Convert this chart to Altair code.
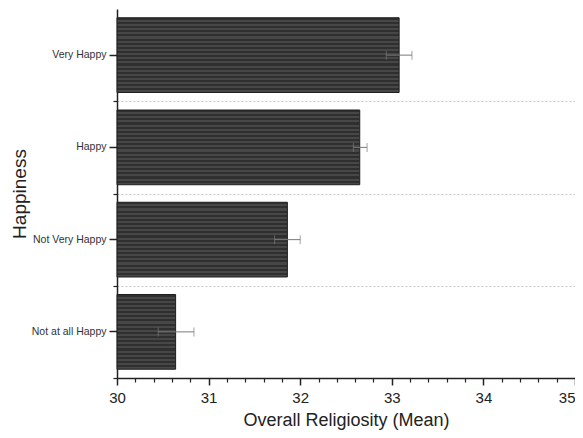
import altair as alt
import pandas as pd

categories = ["Very Happy", "Happy", "Not Very Happy", "Not at all Happy"]
means = [33.08, 32.65, 31.86, 30.64]
err_low = [32.94, 32.58, 31.72, 30.45]
err_high = [33.22, 32.73, 32.00, 30.84]
x_major = [30, 31, 32, 33, 34, 35]
x_minor = [30.2, 30.4, 30.6, 30.8, 31.2, 31.4, 31.6, 31.8, 32.2, 32.4, 32.6, 32.8,
           33.2, 33.4, 33.6, 33.8, 34.2, 34.4, 34.6, 34.8]

df = pd.DataFrame({"cat": categories, "mean": means, "low": err_low, "high": err_high})

FONT = "Liberation Sans"

# striped dark fill imitating the hatch texture of the bars
stops = []
n = 36
for i in range(n):
    c = "#2f2f2f" if i % 2 == 0 else "#474747"
    stops.append({"offset": i / n, "color": c})
    stops.append({"offset": (i + 1) / n, "color": c})
fill = {"gradient": "linear", "x1": 0, "y1": 0, "x2": 0, "y2": 1, "stops": stops}

xscale = alt.Scale(domain=[30, 35], zero=False, nice=False)
yscale = alt.Scale(domain=categories, paddingInner=0, paddingOuter=0)

bars = alt.Chart(df).mark_bar(
    fill=fill, stroke="#1e1e1e", strokeWidth=1, height={"band": 0.81}
).encode(
    x=alt.X("mean:Q", scale=xscale, axis=alt.Axis(
        values=x_major, title="Overall Religiosity (Mean)", orient="bottom",
        tickSize=7, tickWidth=1.5, tickColor="#222", domainColor="#222", domainWidth=1.5,
        labelFont=FONT, labelFontSize=15, labelColor="#222", labelPadding=5,
        labelAlign={"condition": {"test": "datum.value >= 35", "value": "right"}, "value": "center"},
        titleFont=FONT, titleFontSize=18, titleFontWeight="normal", titleColor="#222",
        titlePadding=6, grid=False, labelFlush=False)),
    x2=alt.datum(30),
    y=alt.Y("cat:N", scale=yscale, axis=alt.Axis(
        title="Happiness", orient="left", tickSize=8, tickWidth=1.5, tickColor="#222",
        domainColor="#222", domainWidth=1.5,
        labelFont=FONT, labelFontSize=10.5, labelColor="#333", labelPadding=3,
        titleFont=FONT, titleFontSize=19, titleFontWeight="normal", titleColor="#222",
        titleX=-88, grid=False)),
)

err_rule = alt.Chart(df).mark_rule(color="#7a7a7a", strokeWidth=1).encode(
    x=alt.X("low:Q", scale=xscale, axis=alt.Axis(
        values=x_minor, orient="bottom", tickSize=4, tickWidth=1.2, tickColor="#222",
        labels=False, domain=False, title=None, grid=False)),
    x2="high:Q",
    y=alt.Y("cat:N", scale=yscale, axis=alt.Axis(
        orient="left", tickBand="extent", values=categories[1:], tickSize=4,
        tickWidth=1.2, tickColor="#222",
        labels=False, domain=False, title=None, grid=True, gridDash=[2, 2],
        gridColor="#c8c8c8", gridWidth=1)),
)

cap_low = alt.Chart(df).mark_tick(color="#7a7a7a", thickness=1, size=9).encode(
    x=alt.X("low:Q", scale=xscale, axis=None),
    y=alt.Y("cat:N", scale=yscale, axis=None),
)
cap_high = alt.Chart(df).mark_tick(color="#7a7a7a", thickness=1, size=9).encode(
    x=alt.X("high:Q", scale=xscale, axis=None),
    y=alt.Y("cat:N", scale=yscale, axis=None),
)

chart = alt.layer(bars, err_rule, cap_low, cap_high).resolve_axis(
    x="independent", y="independent"
).properties(
    width=458, height=369,
    autosize=alt.AutoSizeParams(type="none"),
    padding={"left": 109, "top": 1, "right": 0, "bottom": 52},
).configure_view(stroke=None)

chart.save("out.html", embed_options={"renderer": "svg", "actions": False})
